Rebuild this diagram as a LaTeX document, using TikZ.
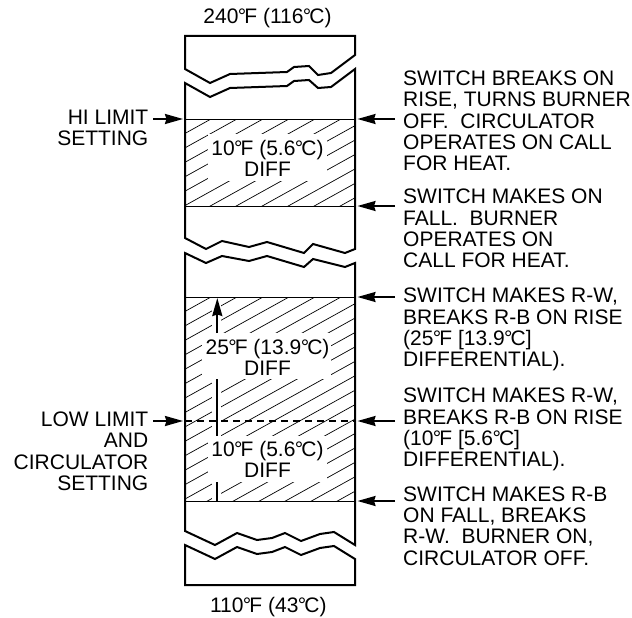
\documentclass[tikz,border=0pt]{standalone}
\usepackage{fontspec}
\setmainfont{Liberation Sans}
\usetikzlibrary{arrows.meta}
\newcommand\dg{\kern-0.6pt°\kern-1.9pt}
\tikzset{
  x=1pt,y=-1pt,
  wall/.style={line width=2pt,line join=miter},
  rule/.style={line width=1pt},
  hatchline/.style={line width=0.7pt},
  mask/.style={fill=white,draw=none},
  arr/.style={line width=2pt,-{Stealth[length=18pt,width=10pt,inset=1.5pt]}},
  stem/.style={line width=2pt},
  lab/.style={inner sep=0pt,font=\fontsize{21}{21.3}\selectfont},
  rlab/.style={lab,anchor=north west,align=left},
  llab/.style={lab,anchor=north east,align=right},
  clab/.style={lab,anchor=base},
}
\begin{document}
\begin{tikzpicture}
\useasboundingbox (0,0) rectangle (632,618);
% hatching
\begin{scope}
\clip (185,119) rectangle (355,206);
\foreach \i in {-8,...,12}{\draw[hatchline] ({211+26*\i-300},{119+166.5}) -- ({211+26*\i+300},{119-166.5});}
\end{scope}
\begin{scope}
\clip (185,297) rectangle (355,501);
\foreach \i in {-4,...,20}{\draw[hatchline] ({211+26*\i-400},{297+222}) -- ({211+26*\i+400},{297-222});}
\end{scope}
\fill[mask] (208,134) rectangle (327,181);
\fill[mask] (202,333) rectangle (331,379);
\fill[mask] (208,436) rectangle (327,482);
\fill[mask] (212,298) rectangle (221,333);
\fill[mask] (212,379) rectangle (221,436);
\fill[mask] (212,482) rectangle (221,500);
% casing
\draw[wall] (185,69) -- (185,36) -- (355,36) -- (355,55) -- (331,73) -- (318,75) -- (309,66) -- (294,67) -- (287,72) -- (230,74) -- (210,83) -- cycle;
\draw[wall] (185,83) -- (210,97) -- (230,88) -- (287,86) -- (294,81) -- (309,80) -- (318,88) -- (331,87) -- (355,69) -- (355,249) -- (345,253) -- (313,244) -- (304,253) -- (267,242) -- (249,247) -- (222,241) -- (206,249) -- (185,238) -- cycle;
\draw[wall] (185,253) -- (206,263) -- (222,256) -- (249,261) -- (267,256) -- (304,267) -- (313,259) -- (345,267) -- (355,263) -- (355,545) -- (334,532) -- (320,534) -- (301,541) -- (285,533) -- (272,538) -- (257,540) -- (237,533) -- (215,545) -- (185,531) -- cycle;
\draw[wall] (185,545) -- (215,559) -- (237,547) -- (257,554) -- (272,552) -- (285,547) -- (301,555) -- (320,548) -- (334,546) -- (355,559) -- (355,585) -- (185,585) -- cycle;
% level positions
\coordinate (hiL) at (185,119); \coordinate (hiR) at (355,119);
\coordinate (mkL) at (185,206); \coordinate (mkR) at (355,206);
\coordinate (twL) at (185,297); \coordinate (twR) at (355,297);
\coordinate (loL) at (185,421); \coordinate (loR) at (355,421);
\coordinate (btL) at (185,501); \coordinate (btR) at (355,501);
\draw[rule] (hiL) -- (hiR);
\draw[rule] (mkL) -- (mkR);
\draw[rule] (twL) -- (twR);
\draw[rule,line width=1.3pt,dash pattern=on 6.5pt off 5.5pt] (loL) -- (loR);
\draw[rule] (btL) -- (btR);
% arrows
\coordinate (aHiL) at (153,119); \coordinate (tHiL) at (183,119);
\coordinate (aLoL) at (153,421); \coordinate (tLoL) at (183,421);
\coordinate (a1) at (395,119); \coordinate (t1) at (357.5,119);
\coordinate (a2) at (395,206); \coordinate (t2) at (357.5,206);
\coordinate (a3) at (395,297); \coordinate (t3) at (357.5,297);
\coordinate (a4) at (395,421); \coordinate (t4) at (357.5,421);
\coordinate (a5) at (395,501); \coordinate (t5) at (357.5,501);
\draw[arr] (aHiL) -- (tHiL);
\draw[arr] (aLoL) -- (tLoL);
\foreach \k in {1,...,5}{\draw[arr] (a\k) -- (t\k);}
% differential scale
\coordinate (s1) at (217.3,333); \coordinate (s2) at (217.3,298);
\coordinate (s3) at (217.3,379); \coordinate (s4) at (217.3,436);
\coordinate (s5) at (217.3,482); \coordinate (s6) at (217.3,501);
\draw[arr] (s1) -- (s2);
\draw[stem] (s3) -- (s4);
\draw[stem] (s5) -- (s6);
% texts
\node[clab] (top) at (267.5,24) {240\dg F (116\dg C)};
\node[clab] (bot) at (268.3,612.7) {110\dg F (43\dg C)};
\node[clab] (d1a) at (267.5,155.7) {10\dg F (5.6\dg C)};
\node[clab] (d1b) at (267.5,176.7) {DIFF};
\node[clab] (d2a) at (267.5,354) {25\dg F (13.9\dg C)};
\node[clab] (d2b) at (267.5,375) {DIFF};
\node[clab] (d3a) at (267.5,456.7) {10\dg F (5.6\dg C)};
\node[clab] (d3b) at (267.5,477.7) {DIFF};
\node[llab] (hi) at (148.5,110) {HI LIMIT\\SETTING};
\node[llab] (lo) at (148.5,411.7) {LOW LIMIT\\AND\\CIRCULATOR\\SETTING};
\node[rlab] (r1) at (403,70.6) {SWITCH BREAKS ON\\RISE, TURNS BURNER\\OFF.\ \ CIRCULATOR\\OPERATES ON CALL\\FOR HEAT.};
\node[rlab] (r2) at (403,188.9) {SWITCH MAKES ON\\FALL.\ \ BURNER\\OPERATES ON\\CALL FOR HEAT.};
\node[rlab] (r3) at (403,287.9) {SWITCH MAKES R-W,\\BREAKS R-B ON RISE\\(25\dg F [13.9\dg C]\\DIFFERENTIAL).};
\node[rlab] (r4) at (403,387.9) {SWITCH MAKES R-W,\\BREAKS R-B ON RISE\\(10\dg F [5.6\dg C]\\DIFFERENTIAL).};
\node[rlab] (r5) at (403,486.3) {SWITCH MAKES R-B\\ON FALL, BREAKS\\R-W.\ \ BURNER ON,\\CIRCULATOR OFF.};
\end{tikzpicture}
\end{document}
